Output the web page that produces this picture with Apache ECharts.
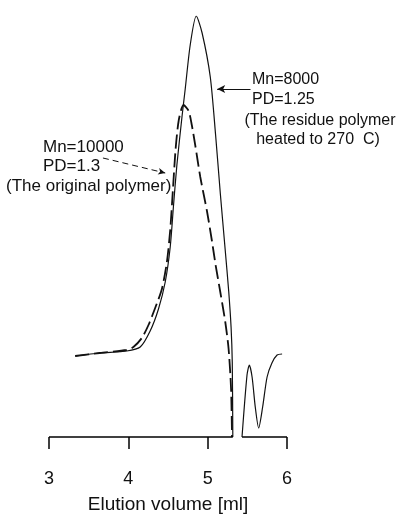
<!DOCTYPE html>
<html>
<head>
<meta charset="utf-8">
<script src="https://cdn.jsdelivr.net/npm/echarts@6/dist/echarts.min.js"></script>
<style>
html,body{margin:0;padding:0;background:#fff;}
#c{width:401px;height:519px;}
</style>
</head>
<body>
<div id="c"></div>
<script>
// Elution volume [ml] vs detector response (arbitrary units)
const xTicks = [3, 4, 5, 6];
const residueCurve = [
  [3.33, 81], [3.64, 84], [3.98, 86], [4.15, 90], [4.275, 106], [4.38, 128],
  [4.465, 155], [4.528, 190], [4.57, 232], [4.612, 272], [4.676, 320], [4.717, 348],
  [4.78, 392], [4.856, 421], [4.93, 404], [5.033, 360], [5.1, 302], [5.16, 243],
  [5.22, 188], [5.265, 146], [5.295, 110], [5.31, 75], [5.317, 0], [5.37, '-'],
  [5.433, 0], [5.496, 62], [5.525, 72], [5.56, 60], [5.6, 30], [5.643, 9],
  [5.693, 30], [5.749, 60], [5.81, 74], [5.875, 82], [5.938, 83]
];
const originalCurve = [
  [3.33, 81], [3.64, 84], [3.98, 87], [4.064, 90], [4.17, 99], [4.254, 112],
  [4.338, 129], [4.423, 148], [4.486, 175], [4.528, 207], [4.56, 245], [4.595, 287],
  [4.636, 317], [4.696, 332], [4.76, 326], [4.8, 312], [4.843, 292], [4.907, 260],
  [4.991, 226], [5.054, 196], [5.1, 172], [5.159, 145], [5.222, 115], [5.264, 88],
  [5.295, 48], [5.307, 0]
];
// annotation arrows and broken baseline (data units)
const residueArrow = [[5.54, 348], [5.12, 348]];
const originalArrow = [[3.68, 279], [4.465, 264]];
const baseline = [[[3.0, 0], [5.317, 0]], [[5.433, 0], [6.0, 0]]];

const chart = echarts.init(document.getElementById('c'));
const font = '"Liberation Sans", Arial, sans-serif';
chart.setOption({
  animation: false,
  backgroundColor: '#fff',
  grid: { left: 49, right: 114, top: 16, bottom: 82 },
  xAxis: {
    type: 'value', min: 3, max: 6, interval: 1,
    name: 'Elution volume [ml]', nameLocation: 'middle', nameGap: 58,
    nameTextStyle: { fontFamily: font, fontSize: 19, color: '#111' },
    axisLine: { show: false },
    axisTick: { show: true, length: 12, lineStyle: { color: '#000', width: 1.5 } },
    axisLabel: { margin: 33, fontFamily: font, fontSize: 18, color: '#111',
      formatter: v => xTicks.includes(v) ? String(v) : '' },
    splitLine: { show: false }
  },
  yAxis: { type: 'value', min: 0, max: 421, show: false },
  series: [
    {
      name: 'residue', type: 'line', data: residueCurve, smooth: 0.25,
      showSymbol: false, connectNulls: false,
      lineStyle: { color: '#111', width: 1.2 },
      markLine: {
        silent: true, symbol: ['none', 'arrow'], symbolSize: [6, 8],
        label: { show: false },
        lineStyle: { color: '#111', width: 1, type: 'solid' },
        data: [[{ coord: residueArrow[0] }, { coord: residueArrow[1] }]]
      }
    },
    {
      name: 'original', type: 'line', data: originalCurve, smooth: 0.25,
      showSymbol: false,
      lineStyle: { color: '#111', width: 1.8, type: [14, 5] },
      markLine: {
        silent: true, symbol: ['none', 'arrow'], symbolSize: [5, 7],
        label: { show: false },
        lineStyle: { color: '#111', width: 1, type: [6, 4] },
        data: [[{ coord: originalArrow[0] }, { coord: originalArrow[1] }]]
      }
    },
    {
      name: 'baseline', type: 'line', data: [], showSymbol: false,
      markLine: {
        silent: true, symbol: ['none', 'none'], label: { show: false },
        lineStyle: { color: '#000', width: 1.5, type: 'solid' },
        data: baseline.map(seg => [{ coord: seg[0] }, { coord: seg[1] }])
      }
    }
  ],
  graphic: [
    { type: 'text', left: 252, top: 70, style: { text: 'Mn=8000\nPD=1.25', font: '16px ' + font, fill: '#111', lineHeight: 20 } },
    { type: 'text', x: 320, y: 113, style: { text: '(The residue polymer', font: '16px ' + font, fill: '#111', align: 'center' } },
    { type: 'text', x: 318, y: 132, style: { text: 'heated to 270  C)', font: '16px ' + font, fill: '#111', align: 'center' } },
    { type: 'text', left: 43, top: 138, style: { text: 'Mn=10000\nPD=1.3', font: '17px ' + font, fill: '#111', lineHeight: 19 } },
    { type: 'text', left: 6, top: 178, style: { text: '(The original polymer)', font: '17px ' + font, fill: '#111' } }
  ]
});
</script>
</body>
</html>
